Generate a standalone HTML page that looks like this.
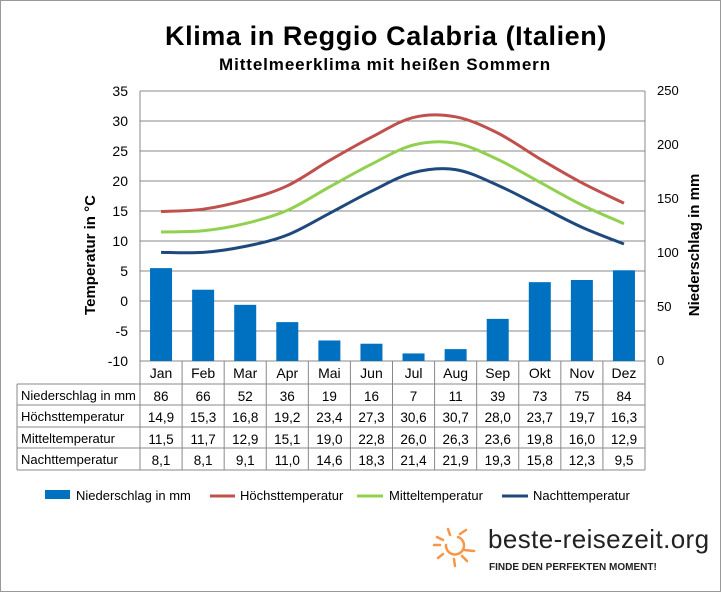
<!DOCTYPE html>
<html><head><meta charset="utf-8"><style>
body{margin:0;background:#fff}
svg{display:block;font-family:"Liberation Sans",Arial,sans-serif}
</style></head><body>
<svg id="s" width="722" height="594" xmlns="http://www.w3.org/2000/svg">
<rect x="0.5" y="0.5" width="720" height="591" fill="#fff" stroke="#999"/>
<text x="386" y="45" font-size="27" font-weight="bold" text-anchor="middle" letter-spacing="0.6">Klima in Reggio Calabria (Italien)</text>
<text x="385" y="70" font-size="17" font-weight="bold" text-anchor="middle" letter-spacing="0.9">Mittelmeerklima mit heißen Sommern</text>
<g id="grid" stroke="#888" stroke-width="1"></g>
<g id="bars" fill="#0070C0"></g>
<g id="lines" fill="none" stroke-width="3"></g>
<g id="txt" font-size="14"></g>
<text transform="translate(95,255) rotate(-90)" font-size="15" font-weight="bold" text-anchor="middle">Temperatur in °C</text>
<text transform="translate(699,245) rotate(-90)" font-size="15" font-weight="bold" text-anchor="middle">Niederschlag in  mm</text>
<g font-size="13">
<rect x="45" y="490" width="25" height="9" fill="#0070C0"/><text x="76" y="500">Niederschlag in mm</text>
<line x1="210" y1="496" x2="235" y2="496" stroke="#C0504D" stroke-width="3"/><text x="240" y="500">Höchsttemperatur</text>
<line x1="357" y1="496" x2="383" y2="496" stroke="#92D050" stroke-width="3"/><text x="389" y="500">Mitteltemperatur</text>
<line x1="502" y1="496" x2="528" y2="496" stroke="#1F497D" stroke-width="3"/><text x="533" y="500">Nachttemperatur</text>
</g>
<g stroke="#F79646" stroke-width="2.5" stroke-linecap="round" fill="none">
<path d="M446 545 a9 9 0 1 0 12 -8"/>
<line x1="434" y1="545" x2="440" y2="545"/><line x1="464" y1="550" x2="474" y2="551"/>
<line x1="448" y1="529" x2="450" y2="535"/><line x1="437" y1="537" x2="443" y2="540"/>
<line x1="460" y1="534" x2="466" y2="530"/><line x1="443" y1="554" x2="438" y2="558"/>
<line x1="454" y1="559" x2="455" y2="566"/><line x1="462" y1="556" x2="467" y2="561"/>
</g>
<text x="488" y="548" font-size="26" fill="#222" letter-spacing="0.4">beste-reisezeit.org</text>
<text x="489" y="570" font-size="10" font-weight="bold" fill="#222">FINDE DEN PERFEKTEN MOMENT!</text>
</svg>
<script>
var ns="http://www.w3.org/2000/svg",L=140,R=645,T=91,B=361,cw=(R-L)/12;
function el(p,t,a,txt){var e=document.createElementNS(ns,t);for(var k in a)e.setAttribute(k,a[k]);if(txt!=null)e.textContent=txt;document.getElementById(p).appendChild(e);}
var m=["Jan","Feb","Mar","Apr","Mai","Jun","Jul","Aug","Sep","Okt","Nov","Dez"];
var N=[86,66,52,36,19,16,7,11,39,73,75,84];
var H=[14.9,15.3,16.8,19.2,23.4,27.3,30.6,30.7,28.0,23.7,19.7,16.3];
var M=[11.5,11.7,12.9,15.1,19.0,22.8,26.0,26.3,23.6,19.8,16.0,12.9];
var Nt=[8.1,8.1,9.1,11.0,14.6,18.3,21.4,21.9,19.3,15.8,12.3,9.5];
for(var i=0;i<=9;i++){var y=T+i*30;el("grid","line",{x1:L,x2:R,y1:y,y2:y});el("txt","text",{x:128,y:y+5,"text-anchor":"end","font-size":14},35-5*i);}
for(var i=0;i<=5;i++){var y=B-i*54;el("txt","text",{x:657,y:y+4,"font-size":13},i*50);}
el("grid","line",{x1:L,x2:L,y1:T,y2:470});el("grid","line",{x1:R,x2:R,y1:T,y2:470});
for(var i=1;i<12;i++){var x=L+cw*i;el("grid","line",{x1:x,x2:x,y1:B,y2:470});}
el("grid","line",{x1:17,x2:17,y1:384,y2:470});
[384,405,427,448,470].forEach(function(y){el("grid","line",{x1:17,x2:R,y1:y,y2:y});});
var lab=["Niederschlag in mm","Höchsttemperatur","Mitteltemperatur","Nachttemperatur"],ry=[400,421,443,464];
lab.forEach(function(t,j){el("txt","text",{x:21,y:ry[j],"font-size":13},t);});
for(var i=0;i<12;i++){var cx=L+cw*(i+0.5);
el("txt","text",{x:cx,y:378,"text-anchor":"middle"},m[i]);
el("bars","rect",{x:cx-11,y:B-N[i]*1.08,width:22,height:N[i]*1.08});
var f=function(v){return v.toFixed(1).replace(".",",");};
[N[i],f(H[i]),f(M[i]),f(Nt[i])].forEach(function(v,j){el("txt","text",{x:cx,y:ry[j]+1,"text-anchor":"middle","font-size":13.5},v);});}
function path(d){var p=d.map(function(v,i){return[L+cw*(i+0.5),301-v*6];});var s="M"+p[0][0]+" "+p[0][1];
for(var i=0;i<p.length-1;i++){var p0=p[Math.max(i-1,0)],p1=p[i],p2=p[i+1],p3=p[Math.min(i+2,p.length-1)];
s+=" C"+(p1[0]+(p2[0]-p0[0])/6)+" "+(p1[1]+(p2[1]-p0[1])/6)+" "+(p2[0]-(p3[0]-p1[0])/6)+" "+(p2[1]-(p3[1]-p1[1])/6)+" "+p2[0]+" "+p2[1];}return s;}
el("lines","path",{d:path(H),stroke:"#C0504D"});
el("lines","path",{d:path(M),stroke:"#92D050"});
el("lines","path",{d:path(Nt),stroke:"#1F497D"});
</script>
</body></html>
